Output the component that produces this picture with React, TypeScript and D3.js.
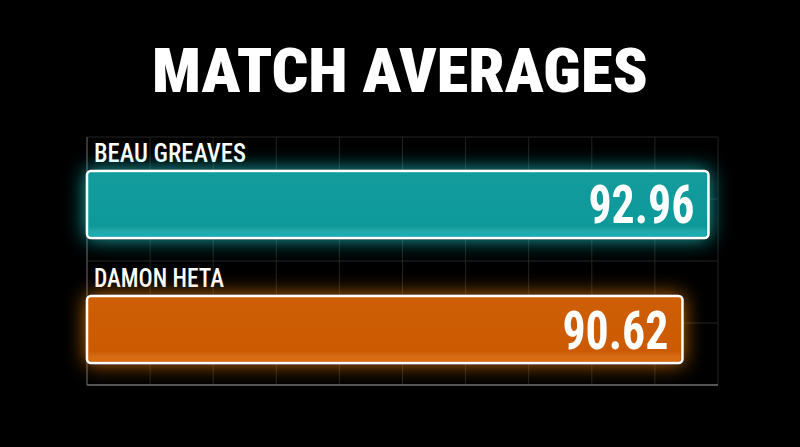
import {useEffect, useRef} from "react";
import * as d3 from 'd3';

const title = "MATCH AVERAGES";
const players = ["BEAU GREAVES", "DAMON HETA"];
const averages = [92.96, 90.62];
const gridCols = [0, 1, 2, 3, 4, 5, 6, 7, 8, 9, 10];
const gridRows = [0, 1, 2, 3, 4];

const fills = ["#07999a", "#cc5a02"];
const glows = ["#19e6ea", "#ff8a10"];
const condensed = "'Roboto Condensed', 'Liberation Sans Narrow', 'DejaVu Sans Condensed', Roboto, sans-serif";

export default function App() {
  const svgRef = useRef<SVGSVGElement>(null);
  const width = 800;
  const height = 447;

  useEffect(() => {
    d3.select(svgRef.current).selectAll('*').remove();
    const svg = d3.select(svgRef.current)
      .attr('width', width)
      .attr('height', height);

    svg.append('rect').attr('width', width).attr('height', height).attr('fill', '#000');

    const defs = svg.append('defs');
    glows.forEach((c, i) => {
      const f = defs.append('filter').attr('id', `glow${i}`)
        .attr('x', '-20%').attr('y', '-80%').attr('width', '140%').attr('height', '260%');
      f.append('feFlood').attr('flood-color', c).attr('flood-opacity', 0.75);
      f.append('feComposite').attr('in2', 'SourceAlpha').attr('operator', 'in').attr('result', 'col');
      f.append('feGaussianBlur').attr('in', 'col').attr('stdDeviation', 10).attr('result', 'blur');
      const m = f.append('feMerge');
      m.append('feMergeNode').attr('in', 'blur');
      m.append('feMergeNode').attr('in', 'SourceGraphic');

      const g = defs.append('linearGradient').attr('id', `shine${i}`)
        .attr('x1', 0).attr('y1', 0).attr('x2', 0).attr('y2', 1);
      g.append('stop').attr('offset', '0%').attr('stop-color', '#fff').attr('stop-opacity', 0.03);
      g.append('stop').attr('offset', '85%').attr('stop-color', '#fff').attr('stop-opacity', 0);
      g.append('stop').attr('offset', '100%').attr('stop-color', c).attr('stop-opacity', 0.3);
    });

    // grid
    const gx = d3.scaleLinear().domain([0, 10]).range([87, 718]);
    const gy = d3.scaleLinear().domain([0, 4]).range([137, 385]);

    svg.append('g').selectAll('line').data(gridCols.slice(1)).join('line')
      .attr('x1', d => gx(d)).attr('x2', d => gx(d))
      .attr('y1', gy(0)).attr('y2', gy(4))
      .attr('stroke', '#222').attr('stroke-width', 1);
    svg.append('g').selectAll('line').data(gridRows.slice(0, 4)).join('line')
      .attr('x1', gx(0)).attr('x2', gx(10))
      .attr('y1', d => gy(d)).attr('y2', d => gy(d))
      .attr('stroke', '#222').attr('stroke-width', 1);
    // axes
    svg.append('line').attr('x1', gx(0)).attr('x2', gx(0)).attr('y1', gy(0)).attr('y2', gy(4))
      .attr('stroke', '#4a4a4a').attr('stroke-width', 1.5);
    svg.append('line').attr('x1', gx(0)).attr('x2', gx(10)).attr('y1', gy(4)).attr('y2', gy(4))
      .attr('stroke', '#555').attr('stroke-width', 2);

    // title
    svg.append('text').text(title)
      .attr('x', 152).attr('y', 92)
      .attr('font-family', condensed).attr('font-weight', 900).attr('font-size', 61)
      .attr('fill', '#fff')
      .attr('textLength', 496).attr('lengthAdjust', 'spacingAndGlyphs');

    const x = d3.scaleLinear().domain([37, 94]).range([87, 720]);
    const y = d3.scaleBand().domain(players).range([137, 387]);

    const rows = svg.append('g').selectAll('g').data(players).join('g')
      .attr('transform', d => `translate(0,${y(d)})`);

    rows.append('text').text(d => d)
      .attr('x', 94).attr('y', 25)
      .attr('font-family', condensed).attr('font-weight', 500).attr('font-size', 26)
      .attr('fill', '#fff')
      .attr('textLength', (d, i) => i === 0 ? 152 : 130).attr('lengthAdjust', 'spacingAndGlyphs');

    rows.append('rect')
      .attr('x', x(37)).attr('y', 34)
      .attr('width', (d, i) => x(averages[i]) - x(37)).attr('height', 67)
      .attr('rx', 4)
      .attr('fill', (d, i) => fills[i])
      .attr('stroke', '#fff').attr('stroke-width', 2.5)
      .attr('filter', (d, i) => `url(#glow${i})`);

    rows.append('rect')
      .attr('x', x(37) + 2).attr('y', 36)
      .attr('width', (d, i) => x(averages[i]) - x(37) - 4).attr('height', 63)
      .attr('rx', 3)
      .attr('fill', (d, i) => `url(#shine${i})`);

    rows.append('text').text((d, i) => averages[i].toFixed(2))
      .attr('x', (d, i) => x(averages[i]) - 14).attr('y', (d, i) => i === 0 ? 86 : 87)
      .attr('text-anchor', 'end')
      .attr('font-family', condensed).attr('font-weight', 700).attr('font-size', 53)
      .attr('fill', '#fff')
      .attr('textLength', 106).attr('lengthAdjust', 'spacingAndGlyphs');
  }, []);

  return (
    <div>
      <svg ref={svgRef} style={{position: 'fixed', left: 0, top: 0, display: 'block'}}></svg>
    </div>
  );
}
